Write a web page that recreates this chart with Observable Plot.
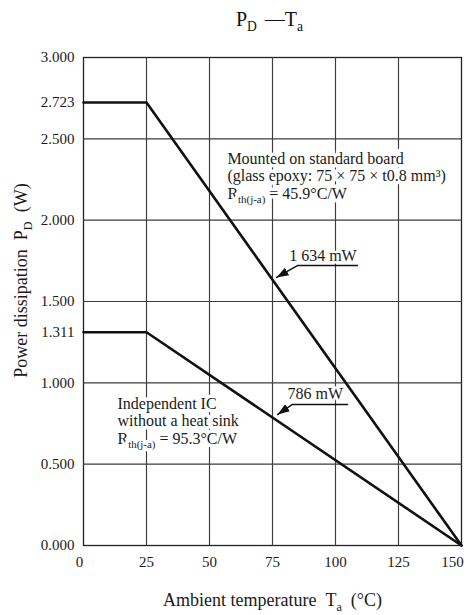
<!DOCTYPE html>
<html><head><meta charset="utf-8">
<script src="https://cdn.jsdelivr.net/npm/d3@7"></script>
<script src="https://cdn.jsdelivr.net/npm/@observablehq/plot@0.6"></script>
<style>body{margin:0;background:#fff}#chart svg{display:block}</style>
</head><body><div id="chart"></div>
<script>
// Data
const boardT = [0, 25, 150];
const boardP = [2.723, 2.723, 0];
const icT = [0, 25, 150];
const icP = [1.311, 1.311, 0];
const xTicks = [0, 25, 50, 75, 100, 125, 150];
const yTicks = [0, 0.5, 1, 1.311, 1.5, 2, 2.5, 2.723, 3];
const xGrid = [25, 50, 75, 100, 125];
const yGrid = [0.5, 1, 1.5, 2, 2.5];
const xDomain = [0, 150];
const yDomain = [0, 3];
const calloutText = ["1 634 mW", "786 mW"];
const calloutT = [95, 92];
const calloutP = [1.746, 0.898];
const leaderBoard = [[108.7, 1.721], [84.9, 1.721], [76.6, 1.648]];
const leaderIc = [[104.8, 0.867], [82.9, 0.867], [77.0, 0.805]];
const noteText = [
  "Mounted on standard board\n(glass epoxy: 75 × 75 × t0.8 mm³)\nR_{th(j-a)} = 45.9°C/W",
  "Independent IC\nwithout a heat sink\nR_{th(j-a)} = 95.3°C/W"
];
const noteT = [57.1, 13.5];
const noteP = [2.425, 0.918];
const titleText = "P_{D}\u2009\u2009—T_{a}";
const xLabel = "Ambient temperature\u00a0\u00a0T_{a}\u00a0\u00a0(°C)";
const yLabel = "Power dissipation\u00a0\u00a0P_{D}\u00a0\u00a0(W)";

const series = [
  ...boardT.map((t, i) => ({t, p: boardP[i], s: "board"})),
  ...icT.map((t, i) => ({t, p: icP[i], s: "ic"}))
];
const leaders = [
  ...leaderBoard.map(([t, p]) => ({t, p, s: "a"})),
  ...leaderIc.map(([t, p]) => ({t, p, s: "b"}))
];
const callouts = calloutText.map((text, i) => ({text, t: calloutT[i], p: calloutP[i]}));
const notes = noteText.map((text, i) => ({text, t: noteT[i], p: noteP[i]}));
const gridPts = [
  ...xGrid.flatMap(v => [{t: v, p: yDomain[0], g: "x" + v}, {t: v, p: yDomain[1], g: "x" + v}]),
  ...yGrid.flatMap(v => [{t: xDomain[0], p: v, g: "y" + v}, {t: xDomain[1], p: v, g: "y" + v}])
];

const FONT = "'Liberation Serif', 'Times New Roman', serif";
const fmt = d3.format(".3f");

const chart = Plot.plot({
  width: 470,
  height: 615,
  marginLeft: 83,
  marginRight: 9,
  marginTop: 57,
  marginBottom: 70,
  style: {fontFamily: FONT, fontSize: "15px", color: "#1a1a1a", background: "#fff"},
  x: {domain: xDomain},
  y: {domain: yDomain},
  marks: [
    Plot.frame({stroke: "#222", strokeWidth: 1.3}),
    Plot.line(gridPts, {x: "t", y: "p", z: "g", stroke: "#3c3c3c", strokeWidth: 1.15}),
    Plot.text(notes, {x: "t", y: "p", text: "text", textAnchor: "start", lineAnchor: "top",
      lineHeight: 1.1, fontSize: 16, fill: "#1a1a1a", stroke: "white", strokeWidth: 7}),
    Plot.line(series, {x: "t", y: "p", z: "s", stroke: "#111", strokeWidth: 2.6}),
    Plot.line(leaders, {x: "t", y: "p", z: "s", stroke: "#111", strokeWidth: 1.5}),
    Plot.text(callouts, {x: "t", y: "p", text: "text", textAnchor: "middle", lineAnchor: "bottom",
      fontSize: 16, fill: "#1a1a1a", stroke: "white", strokeWidth: 5}),
    Plot.axisY({ticks: yTicks, tickSize: 0, tickPadding: 9, tickFormat: fmt, fontSize: 15, label: null}),
    Plot.axisX({ticks: xTicks.slice(1, -1), tickSize: 0, tickPadding: 11, fontSize: 15, label: null}),
    Plot.axisX({ticks: xTicks.slice(0, 1), tickSize: 0, tickPadding: 11, fontSize: 15, label: null, dx: -4}),
    Plot.axisX({ticks: xTicks.slice(-1), tickSize: 0, tickPadding: 11, fontSize: 15, label: null, dx: -9}),
    Plot.text([titleText], {text: d => d, frameAnchor: "top", textAnchor: "middle", dx: -3, dy: -32, lineAnchor: "bottom", fontSize: 20, fill: "#111"}),
    Plot.text([xLabel], {text: d => d, frameAnchor: "bottom", textAnchor: "middle", dy: 60, lineAnchor: "bottom", fontSize: 18, fill: "#1a1a1a"}),
    Plot.text([yLabel], {text: d => d, frameAnchor: "left", textAnchor: "middle", dx: -62, dy: -21, rotate: -90, lineAnchor: "middle", fontSize: 18, fill: "#1a1a1a"})
  ]
});
document.getElementById("chart").appendChild(chart);

// filled arrow heads for the leaders (third line mark)
const defs = d3.select(chart).append("defs");
defs.append("marker").attr("id", "ahead").attr("viewBox", "-12 -5 12 10")
  .attr("refX", 0).attr("refY", 0).attr("markerWidth", 12).attr("markerHeight", 10)
  .attr("markerUnits", "userSpaceOnUse").attr("orient", "auto")
  .append("path").attr("d", "M-12,-4.2L0,0L-12,4.2Z").attr("fill", "#111");
const lineGroups = chart.querySelectorAll('g[aria-label="line"]');
if (lineGroups[2]) lineGroups[2].querySelectorAll("path").forEach(p => p.setAttribute("marker-end", "url(#ahead)"));

// subscripts
function richify(root) {
  const NS = "http://www.w3.org/2000/svg";
  const leaves = [];
  root.querySelectorAll("text").forEach(t => {
    const ts = t.querySelectorAll("tspan");
    if (ts.length) ts.forEach(s => leaves.push(s)); else leaves.push(t);
  });
  for (const node of leaves) {
    const s = node.textContent;
    if (!/_\{/.test(s)) continue;
    const fs = parseFloat(getComputedStyle(node).fontSize) || 15;
    while (node.firstChild) node.removeChild(node.firstChild);
    const add = (txt, dy, small) => {
      const e = document.createElementNS(NS, "tspan");
      if (dy) e.setAttribute("dy", dy.toFixed(2));
      if (small) e.setAttribute("font-size", (fs * 0.68).toFixed(1));
      e.textContent = txt;
      node.appendChild(e);
    };
    const re = /_\{([^}]*)\}/g;
    let last = 0, m, pend = 0;
    while ((m = re.exec(s))) {
      if (m.index > last) { add(s.slice(last, m.index), pend, false); pend = 0; }
      const sh = fs * 0.28;
      add(m[1], sh + pend, true);
      pend = -sh;
      last = m.index + m[0].length;
    }
    if (last < s.length) add(s.slice(last), pend, false);
  }
}
richify(chart);
</script>
</body></html>
